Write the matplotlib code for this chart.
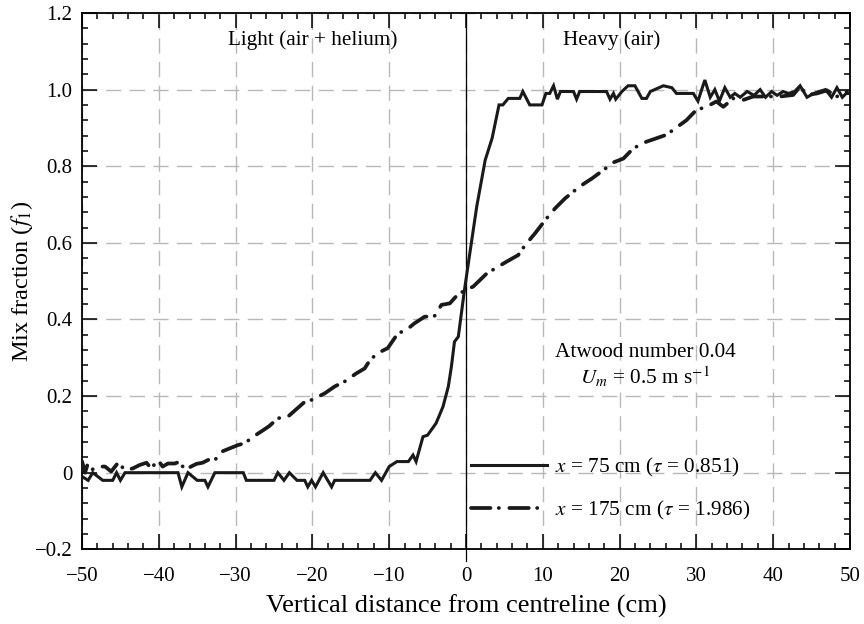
import matplotlib
matplotlib.use("Agg")
import matplotlib.pyplot as plt
from matplotlib.ticker import MultipleLocator, FuncFormatter

plt.rcParams["font.family"] = ["Liberation Serif", "DejaVu Serif"]
plt.rcParams["mathtext.fontset"] = "stix"
plt.rcParams["lines.scale_dashes"] = False

# x = 75 cm profile (solid)
x_75 = [-50, -49.2, -48.6, -47.3, -46, -45.5, -45, -44.4, -37.5, -37, -36.2, -35, -34, -33.6,
        -32.7, -29, -28.6, -25, -24.5, -23.7, -23, -22, -21, -20.6, -20.1, -19.6, -18.6, -17.5,
        -17.1, -12.5, -11.8, -11, -10, -9, -7.5, -6.9, -6.5, -5.6, -5, -3.9, -3, -2.3, -1.9,
        -1.5, -1, -0.6, -0.2, 0.5, 1.4, 2.5, 3.4, 4.3, 4.8, 5.5, 7, 7.4, 8.3, 9.9, 10.4, 10.9,
        11.4, 11.9, 12.3, 14, 14.4, 14.8, 18.3, 18.75, 19.2, 19.5, 20.3, 21.1, 22, 22.9, 23.5,
        24, 25.7, 26.8, 27.4, 28.95, 29.6, 30.2, 31.1, 31.8, 32.4, 33, 33.7, 34.4, 35, 35.7,
        36.6, 37.5, 38.3, 39, 39.8, 40.5, 41.3, 42, 42.8, 43.5, 44.4, 45.3, 46, 46.8, 47.6,
        48.3, 49, 49.5, 50]
f_75 = [-0.01, -0.02, 0, -0.02, -0.02, 0, -0.02, 0, 0, -0.037, 0, -0.02, -0.02, -0.037,
        0, 0, -0.02, -0.02, 0, -0.02, 0, -0.02, -0.02, -0.037, -0.02, -0.037, 0, -0.037,
        -0.02, -0.02, 0, -0.02, 0.016, 0.029, 0.029, 0.046, 0.029, 0.094, 0.098, 0.129, 0.172,
        0.225, 0.277, 0.342, 0.355, 0.416, 0.477, 0.573, 0.695, 0.816, 0.873, 0.96, 0.96,
        0.977, 0.977, 0.995, 0.96, 0.96, 0.99, 0.99, 1.01, 0.975, 0.995, 0.995, 0.975, 0.995,
        0.995, 0.975, 0.99, 0.975, 0.995, 1.01, 1.01, 0.977, 0.977, 0.995, 1.01, 1.005, 0.99,
        0.99, 0.99, 0.97, 1.025, 0.98, 1.0, 0.97, 1.005, 0.98, 0.99, 0.98, 0.995, 0.985, 1.0,
        0.98, 0.995, 0.985, 0.995, 0.99, 0.995, 1.01, 0.98, 0.99, 0.995, 1.0, 0.98, 1.005,
        0.98, 0.99, 0.99]

# x = 175 cm profile (dash-dot)
x_175 = [-50, -49.6, -49.3, -48.8, -47.9, -47, -46.2, -45.3, -44.4, -43.4, -42.5, -41.6, -41,
         -40.1, -39.5, -38.8, -37.9, -37.3, -36.6, -35.8, -35.1, -34.3, -33.4, -32.7, -31.8,
         -30.7, -29.7, -28.8, -27.7, -26.4, -25.6, -24.5, -23.2, -22.3, -21, -20.1, -18.4,
         -17.1, -15.8, -14.3, -13.2, -12.5, -11.5, -10.2, -8.85, -7.8, -6.7, -5.4, -4.1, -3.2,
         -2.1, -1.3, -0.4, 0.95, 2.7, 4.2, 5.3, 6.8, 7.7, 9, 10.5, 11.6, 12.9, 14.8, 16.4,
         17.9, 19.2, 20.5, 21.8, 23.5, 26.1, 28.7, 30, 31.3, 32.6, 33.5, 34.8, 36.1, 37.4,
         39.1, 40.9, 42.6, 43.5, 44.4, 45.7, 47, 48.3, 49.6]
f_175 = [0.03, 0.0, 0.02, 0.007, 0.016, 0.016, 0.003, 0.026, 0.007, 0.011, 0.02, 0.026, 0.011,
         0.033, 0.016, 0.024, 0.024, 0.029, 0.007, 0.016, 0.023, 0.026, 0.035, 0.033, 0.055,
         0.064, 0.072, 0.077, 0.094, 0.111, 0.122, 0.142, 0.146, 0.162, 0.185, 0.19, 0.207,
         0.225, 0.238, 0.259, 0.272, 0.294, 0.312, 0.325, 0.364, 0.372, 0.39, 0.407, 0.409,
         0.438, 0.442, 0.46, 0.473, 0.486, 0.52, 0.538, 0.551, 0.568, 0.594, 0.625, 0.664,
         0.69, 0.716, 0.747, 0.768, 0.79, 0.81, 0.82, 0.847, 0.864, 0.882, 0.92, 0.947, 0.955,
         0.969, 0.955, 0.977, 0.973, 0.982, 0.982, 0.982, 0.986, 1.008, 0.986, 0.99, 0.998,
         0.982, 0.995]

labels = [r"$x$ = 75 cm ($\tau$ = 0.851)", r"$x$ = 175 cm ($\tau$ = 1.986)"]


def tick_label(v, pos):
  if abs(v) < 1e-9:
    return "0"
  return "{:.1f}".format(v).replace("-", "\u2212")


fig = plt.figure(figsize=(8.64, 6.24), dpi=100)
ax = fig.add_axes([0.0949, 0.1197, 0.8889, 0.8595])

ax.grid(True, which="major", color="#b8b8b8", linestyle=(0, (11, 6)), linewidth=1.0)
ax.set_axisbelow(True)
ax.axvline(0, ymin=-0.022, ymax=1, color="black", linewidth=0.9, clip_on=False, zorder=1)

ax.plot(x_75, f_75, color="#1a1a1a", linewidth=2.2, solid_joinstyle="miter", label=labels[0], zorder=3)
ax.plot(x_175, f_175, color="#1a1a1a", linewidth=2.7, dashes=(14, 6, 0.1, 7.5),
        dash_capstyle="round", label=labels[1], zorder=3)

ax.set_xlim(-50, 50)
ax.set_ylim(-0.2, 1.2)
ax.xaxis.set_major_locator(MultipleLocator(10))
ax.xaxis.set_minor_locator(MultipleLocator(2))
ax.yaxis.set_major_locator(MultipleLocator(0.2))
ax.yaxis.set_minor_locator(MultipleLocator(0.04))
ax.yaxis.set_major_formatter(FuncFormatter(tick_label))
ax.xaxis.set_major_formatter(FuncFormatter(lambda v, p: "{:d}".format(int(round(v))).replace("-", "\u2212")))
ax.tick_params(which="both", direction="in", top=True, right=True, labelsize=15, width=1.1)
ax.tick_params(which="major", length=11)
ax.tick_params(which="minor", length=4.5)
ax.tick_params(axis="x", pad=13)
ax.tick_params(axis="y", pad=7)
for s in ax.spines.values():
  s.set_linewidth(1.3)

ax.set_xlabel("Vertical distance from centreline (cm)", fontsize=19, labelpad=6)
ax.set_ylabel(r"Mix fraction ($f_1$)", fontsize=17.5, labelpad=0)

ax.text(-20, 1.13, "Light (air + helium)", ha="center", va="center", fontsize=15.3)
ax.text(19, 1.13, "Heavy (air)", ha="center", va="center", fontsize=15.3)
ax.text(23.3, 0.313, "Atwood number 0.04", ha="center", va="center", fontsize=15.3)
ax.text(23.3, 0.25, r"$U_m$ = 0.5 m s$^{-1}$", ha="center", va="center", fontsize=15.3)

ax.legend(loc="upper left", bbox_to_anchor=(0.495, 0.19), frameon=False, fontsize=15.3,
          handlelength=3.6, handletextpad=0.35, labelspacing=0.95, borderaxespad=0)

plt.savefig("out.png", dpi=100)
